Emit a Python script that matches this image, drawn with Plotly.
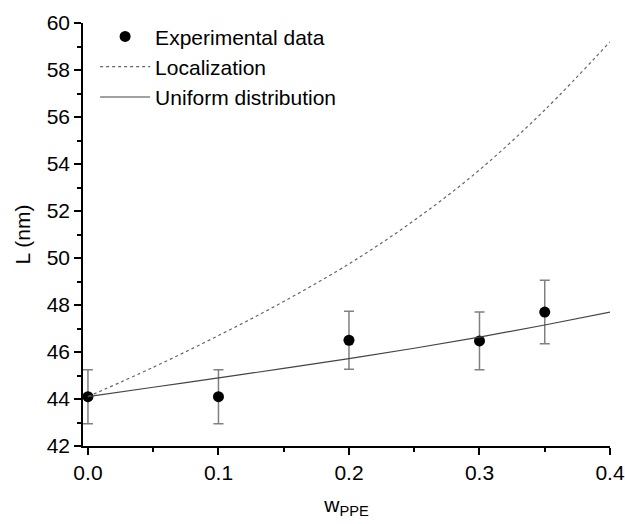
import plotly.graph_objects as go

# Experimental data
exp_x = [0.0, 0.1, 0.2, 0.3, 0.35]
exp_y = [44.1, 44.1, 46.5, 46.47, 47.7]
exp_err = [1.15, 1.15, 1.23, 1.23, 1.35]

# Model curves
curve_x = [0.0, 0.05, 0.1, 0.15, 0.2, 0.25, 0.3, 0.35, 0.4]
local_y = [44.1, 45.35, 46.7, 48.15, 49.75, 51.6, 53.75, 56.3, 59.2]
uniform_y = [44.1, 44.5, 44.9, 45.3, 45.72, 46.16, 46.63, 47.15, 47.7]

x_ticks = [0.0, 0.1, 0.2, 0.3, 0.4]
x_tick_labels = ["0.0", "0.1", "0.2", "0.3", "0.4"]
y_ticks = [42, 44, 46, 48, 50, 52, 54, 56, 58, 60]

font_family = "Liberation Sans, Arial, sans-serif"

fig = go.Figure()
fig.add_trace(go.Scatter(
    x=exp_x, y=exp_y, mode="markers", name="Experimental data",
    marker=dict(color="black", size=11),
    error_y=dict(type="data", array=exp_err, visible=True, color="#808080", thickness=1.5, width=5),
))
fig.add_trace(go.Scatter(
    x=curve_x, y=local_y, mode="lines", name="Localization",
    line=dict(color="#666666", width=1.2, dash="3px,3px", shape="spline"),
))
fig.add_trace(go.Scatter(
    x=curve_x, y=uniform_y, mode="lines", name="Uniform distribution",
    line=dict(color="#444444", width=1.2, shape="spline"),
))

fig.update_layout(
    width=625, height=524,
    margin=dict(l=83, r=15, t=23, b=78),
    paper_bgcolor="white", plot_bgcolor="white",
    font=dict(family=font_family, size=21, color="black"),
    showlegend=True,
    legend=dict(x=0.023, y=1.016, xanchor="left", yanchor="top",
                bgcolor="rgba(0,0,0,0)", font=dict(size=21), tracegroupgap=0,
                itemwidth=50),
    xaxis=dict(
        range=[-0.0038, 0.4], tickvals=x_ticks, ticktext=x_tick_labels,
        ticks="outside", ticklen=7, tickwidth=1.5, tickcolor="black",
        showline=True, linecolor="black", linewidth=1.5, showgrid=False, zeroline=False,
        automargin=False, tickfont=dict(size=21),
        minor=dict(dtick=0.05, tick0=0, ticks="outside", ticklen=4, tickwidth=1.5, tickcolor="black"),
        title=dict(text="w<sub>PPE</sub>", font=dict(size=21), standoff=14),
    ),
    yaxis=dict(
        range=[42, 60], tickvals=y_ticks,
        ticks="outside", ticklen=7, tickwidth=1.5, tickcolor="black",
        showline=True, linecolor="black", linewidth=1.5, showgrid=False, zeroline=False,
        automargin=False, tickfont=dict(size=21),
        minor=dict(dtick=1, tick0=42, ticks="outside", ticklen=4, tickwidth=1.5, tickcolor="black"),
        title=dict(text="L (nm)", font=dict(size=21), standoff=10),
    ),
)

fig.write_html("out.html")
